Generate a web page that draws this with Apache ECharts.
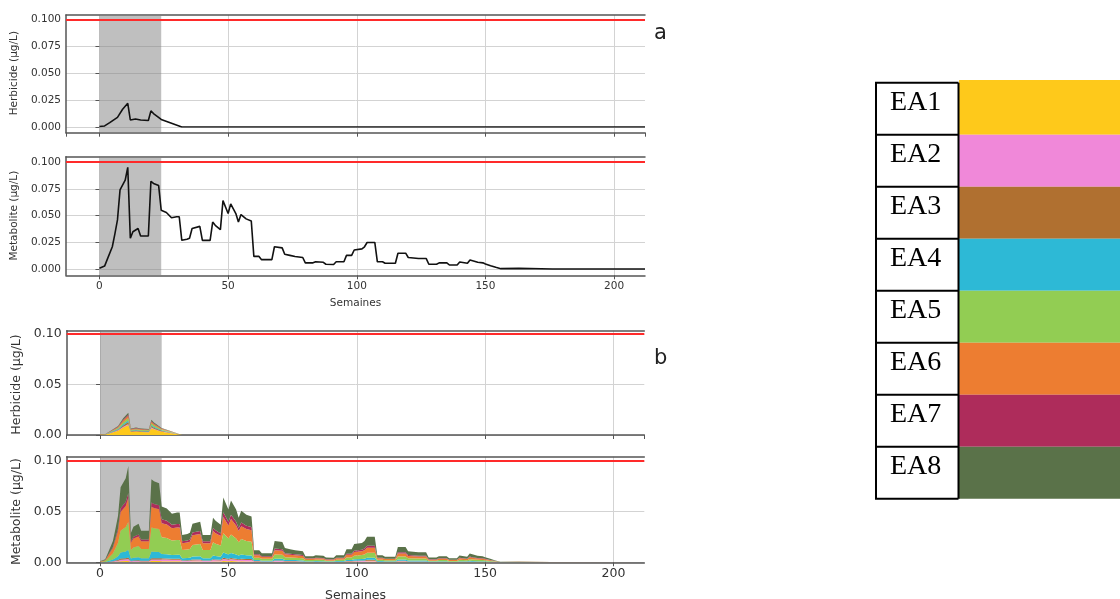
<!DOCTYPE html>
<html><head><meta charset="utf-8">
<script src="https://cdn.jsdelivr.net/npm/echarts@6/dist/echarts.min.js"></script>
<style>html,body{margin:0;padding:0;background:#fff}#c{width:1120px;height:599px}</style>
</head><body><div id="c"></div>
<script>
// ---------- DATA ----------
const threshold = 0.1;           // µg/L limit (red line)
const shadeStart = 0, shadeEnd = 24;  // grey period (weeks)
const xTickValues = [0, 50, 100, 150, 200];

const herbWeeks = [0,2,4,7,9,11,12,14,16,19,20,21,24,32,212];
const herbTotal = [0.0005,0.001,0.004,0.009,0.0165,0.022,0.0065,0.0075,0.0065,0.006,0.015,0.0125,0.007,0,0];
const herbEA1 = [.0002,.0004,.0018,.0041,.0074,.0099,.0029,.0034,.0029,.0027,.0068,.0056,.0032,0,0];
const herbEA2 = [0,.0001,.0002,.0005,.0008,.0011,.0003,.0004,.0003,.0003,.0008,.0006,.0003,0,0];
const herbEA3 = [0,.0001,.0003,.0007,.0013,.0018,.0005,.0006,.0005,.0005,.0012,.0010,.0006,0,0];
const herbEA4 = [0,.0001,.0003,.0006,.0012,.0015,.0005,.0005,.0005,.0004,.0010,.0009,.0005,0,0];
const herbEA5 = [.0001,.0001,.0005,.0011,.0020,.0026,.0008,.0009,.0008,.0007,.0018,.0015,.0008,0,0];
const herbEA6 = [.0001,.0001,.0004,.0009,.0017,.0022,.0007,.0007,.0007,.0006,.0015,.0013,.0007,0,0];
const herbEA7 = [0,0,.0002,.0004,.0008,.0011,.0003,.0004,.0003,.0003,.0007,.0006,.0004,0,0];
const herbEA8 = [.0001,.0001,.0003,.0007,.0013,.0018,.0005,.0006,.0005,.0005,.0012,.0010,.0005,0,0];

const metaWeeks = [0,2,3,5,6,7,8,10,11,12, 13,15,16,19,20,21,23,24,26,28, 30,31,32,34,35,36,39,40,43,44,
  45,47,48,50,51,53,54,55,57,59, 60,62,63,67,68,71,72,74,76,79, 80,83,84,87,88,91,92,95,96,98,
  99,102,103,104,107,108,110,111,115,116, 119,120,124,127,128,131,132,135,136,139,
  140,143,144,145,147,149,150,152,154,156, 163,176,212];
const metaTotal = [.001,.003,.009,.021,.033,.046,.074,.083,.095,.029, .035,.038,.031,.031,.082,.080,.078,.055,.053,.048,
  .049,.049,.027,.028,.029,.038,.040,.027,.027,.044, .041,.037,.064,.052,.061,.052,.044,.051,.047,.045,
  .012,.012,.009,.009,.021,.020,.014,.013,.012,.011, .006,.006,.007,.0065,.0047,.0045,.007,.007,.013,.013,
  .018,.019,.021,.025,.025,.007,.007,.0056,.0056,.015, .015,.011,.010,.010,.0047,.0047,.006,.006,.004,.004,
  .0068,.0056,.0087,.008,.0065,.006,.005,.0034,.0019,.0006, .0009,.0003,.0003];
const metaEA1 = [0,0,.0001,.0003,.0005,.0007,.0011,.0012,.0014,.0004, .0005,.0006,.0005,.0005,.0012,.0012,.0012,.0011,.0011,.0010,
  .0010,.0010,.0005,.0006,.0006,.0008,.0008,.0005,.0005,.0009, .0008,.0007,.0013,.0010,.0012,.0010,.0009,.0010,.0009,.0009,
  .0004,.0004,.0003,.0003,.0006,.0006,.0004,.0004,.0004,.0003, .0002,.0002,.0002,.0002,.0001,.0001,.0002,.0002,.0004,.0004,
  .0005,.0006,.0006,.0008,.0008,.0002,.0002,.0002,.0002,.0005, .0005,.0003,.0003,.0003,.0001,.0001,.0002,.0002,.0001,.0001,
  .0002,.0002,.0003,.0002,.0002,.0002,.0002,.0001,.0001,0, 0,0,0];
const metaEA2 = [0,.0001,.0002,.0004,.0007,.0009,.0015,.0017,.0019,.0006, .0007,.0008,.0006,.0006,.0016,.0016,.0016,.0017,.0016,.0014,
  .0015,.0015,.0008,.0008,.0009,.0011,.0012,.0008,.0008,.0013, .0012,.0011,.0019,.0016,.0018,.0016,.0013,.0015,.0014,.0014,
  .0004,.0004,.0003,.0003,.0006,.0006,.0004,.0004,.0004,.0003, .0002,.0002,.0002,.0002,.0001,.0001,.0002,.0002,.0004,.0004,
  .0005,.0006,.0006,.0008,.0008,.0002,.0002,.0002,.0002,.0005, .0005,.0003,.0003,.0003,.0001,.0001,.0002,.0002,.0001,.0001,
  .0002,.0002,.0003,.0002,.0002,.0002,.0002,.0001,.0001,0, 0,0,0];
const metaEA3 = [0,0,.0001,.0003,.0005,.0007,.0011,.0012,.0014,.0004, .0005,.0006,.0005,.0005,.0012,.0012,.0012,.0011,.0011,.0010,
  .0010,.0010,.0005,.0006,.0006,.0008,.0008,.0005,.0005,.0009, .0008,.0007,.0013,.0010,.0012,.0010,.0009,.0010,.0009,.0009,
  .0004,.0004,.0003,.0003,.0006,.0006,.0004,.0004,.0004,.0003, .0002,.0002,.0002,.0002,.0001,.0001,.0002,.0002,.0004,.0004,
  .0005,.0006,.0006,.0008,.0008,.0002,.0002,.0002,.0002,.0005, .0005,.0003,.0003,.0003,.0001,.0001,.0002,.0002,.0001,.0001,
  .0002,.0002,.0003,.0002,.0002,.0002,.0002,.0001,.0001,0, 0,0,0];
const metaEA4 = [.0001,.0002,.0007,.0017,.0026,.0037,.0059,.0066,.0076,.0023, .0028,.0030,.0025,.0025,.0066,.0064,.0062,.0044,.0042,.0038,
  .0039,.0039,.0022,.0022,.0023,.0030,.0032,.0022,.0022,.0035, .0033,.0030,.0051,.0042,.0049,.0042,.0035,.0041,.0038,.0036,
  .0010,.0010,.0007,.0007,.0017,.0016,.0011,.0010,.0010,.0009, .0005,.0005,.0006,.0005,.0004,.0004,.0006,.0006,.0010,.0010,
  .0014,.0015,.0017,.0020,.0020,.0006,.0006,.0004,.0004,.0012, .0012,.0009,.0008,.0008,.0004,.0004,.0005,.0005,.0003,.0003,
  .0005,.0004,.0007,.0006,.0005,.0005,.0004,.0003,.0002,.0001, .0001,0,0];
const metaEA5 = [.0003,.0009,.0026,.0061,.0096,.0133,.0215,.0241,.0276,.0084, .0102,.0110,.0090,.0090,.0238,.0232,.0226,.0165,.0159,.0144,
  .0147,.0147,.0081,.0084,.0087,.0114,.0120,.0081,.0081,.0132, .0123,.0111,.0192,.0156,.0183,.0156,.0132,.0153,.0141,.0135,
  .0024,.0024,.0018,.0018,.0042,.0040,.0028,.0026,.0024,.0022, .0012,.0012,.0014,.0013,.0009,.0009,.0014,.0014,.0026,.0026,
  .0036,.0038,.0042,.0050,.0050,.0014,.0014,.0011,.0011,.0030, .0030,.0022,.0020,.0020,.0009,.0009,.0012,.0012,.0008,.0008,
  .0014,.0011,.0017,.0016,.0013,.0012,.0010,.0007,.0004,.0001, .0002,.0001,.0001];
const metaEA6 = [.0003,.0008,.0023,.0053,.0083,.0115,.0185,.0208,.0238,.0073, .0088,.0095,.0078,.0078,.0205,.0200,.0195,.0138,.0133,.0120,
  .0123,.0123,.0068,.0070,.0073,.0095,.0100,.0068,.0068,.0110, .0103,.0093,.0160,.0130,.0153,.0130,.0110,.0128,.0118,.0113,
  .0024,.0024,.0018,.0018,.0042,.0040,.0028,.0026,.0024,.0022, .0012,.0012,.0014,.0013,.0009,.0009,.0014,.0014,.0026,.0026,
  .0036,.0038,.0042,.0050,.0050,.0014,.0014,.0011,.0011,.0030, .0030,.0022,.0020,.0020,.0009,.0009,.0012,.0012,.0008,.0008,
  .0014,.0011,.0017,.0016,.0013,.0012,.0010,.0007,.0004,.0001, .0002,.0001,.0001];
const metaEA7 = [0,.0001,.0005,.0011,.0017,.0023,.0037,.0042,.0048,.0015, .0018,.0019,.0016,.0016,.0041,.0040,.0039,.0039,.0037,.0034,
  .0034,.0034,.0019,.0020,.0020,.0027,.0028,.0019,.0019,.0031, .0029,.0026,.0045,.0036,.0043,.0036,.0031,.0036,.0033,.0032,
  .0010,.0010,.0007,.0007,.0017,.0016,.0011,.0010,.0010,.0009, .0005,.0005,.0006,.0005,.0004,.0004,.0006,.0006,.0010,.0010,
  .0014,.0015,.0017,.0020,.0020,.0006,.0006,.0004,.0004,.0012, .0012,.0009,.0008,.0008,.0004,.0004,.0005,.0005,.0003,.0003,
  .0005,.0004,.0007,.0006,.0005,.0005,.0004,.0003,.0001,.0001, .0001,0,0];
const metaEA8 = [.0003,.0009,.0025,.0059,.0092,.0129,.0207,.0232,.0266,.0081, .0098,.0106,.0087,.0087,.0230,.0224,.0218,.0127,.0122,.0110,
  .0113,.0113,.0062,.0064,.0067,.0087,.0092,.0062,.0062,.0101, .0094,.0085,.0147,.0120,.0140,.0120,.0101,.0117,.0108,.0103,
  .0040,.0040,.0031,.0031,.0074,.0070,.0050,.0046,.0040,.0039, .0020,.0020,.0024,.0023,.0018,.0016,.0024,.0024,.0046,.0046,
  .0065,.0066,.0074,.0087,.0087,.0024,.0024,.0020,.0020,.0051, .0051,.0039,.0035,.0035,.0018,.0018,.0020,.0020,.0015,.0015,
  .0024,.0020,.0030,.0030,.0023,.0020,.0016,.0011,.0005,.0002, .0003,.0001,.0001];

const eaLabels = ['EA1','EA2','EA3','EA4','EA5','EA6','EA7','EA8'];
const eaColors = ['#fec91b','#f088d9','#b07030','#2db9d6','#92cd53','#ed7d31','#ae2c5b','#5a7249'];
const herbLayers = [herbEA1,herbEA2,herbEA3,herbEA4,herbEA5,herbEA6,herbEA7,herbEA8];
const metaLayers = [metaEA1,metaEA2,metaEA3,metaEA4,metaEA5,metaEA6,metaEA7,metaEA8];
const yNames = ['Herbicide (µg/L)','Metabolite (µg/L)','Herbicide (µg/L)','Metabolite (µg/L)'];
const xName = 'Semaines';
const panelLetters = ['a','b'];

// ---------- LAYOUT ----------
const FONT = 'DejaVu Sans';
const XMIN = -13, XMAX = 212;
const panels = [
  {frame:[15,132.7], data:[19.3,127], left:66, right:645, yInt:0.025, dec:3, fs:10.5, xLabels:false, nameGap:42, overlay:false},
  {frame:[156.7,275.3], data:[162,269.3], left:66, right:645, yInt:0.025, dec:3, fs:10.5, xLabels:true, nameGap:42, xNameGap:22, overlay:false},
  {frame:[330.7,435], data:[334,435], left:66.7, right:644.3, yInt:0.05, dec:2, fs:12.5, xLabels:false, nameGap:38, overlay:true},
  {frame:[456.7,562.3], data:[461,562.3], left:66.7, right:644.3, yInt:0.05, dec:2, fs:12.5, xLabels:true, nameGap:38, xNameGap:27, overlay:true}
];
const SPINE = '#555', GRIDC = '#d3d3d3', TXT = '#333';

const grid = [], xAxis = [], yAxis = [], series = [];
panels.forEach((p, i) => {
  const w = p.right - p.left;
  grid.push({left:p.left, top:p.frame[0], width:w, height:p.frame[1]-p.frame[0], containLabel:false, outerBoundsMode:'none'});
  grid.push({left:p.left, top:p.data[0], width:w, height:p.data[1]-p.data[0], containLabel:false, outerBoundsMode:'none'});
  const fg = 2*i, dg = 2*i+1;
  xAxis.push({
    type:'value', gridIndex:fg, position:'bottom', min:XMIN, max:XMAX,
    axisLine:{show:true, onZero:false, lineStyle:{color:SPINE, width:1.5}},
    axisTick:{show:true, length:4, lineStyle:{color:SPINE}},
    axisLabel:{show:p.xLabels, showMinLabel:false, showMaxLabel:false, color:TXT, fontFamily:FONT, fontSize:p.fs, margin:5,
      formatter: v => xTickValues.includes(v) ? String(v) : ''},
    splitLine:{show:true, lineStyle:{color:['rgba(0,0,0,0)',GRIDC,GRIDC,GRIDC,GRIDC,GRIDC,'rgba(0,0,0,0)'], width:1}},
    name: p.xLabels ? xName : '', nameLocation:'middle', nameGap:p.xNameGap||20,
    nameTextStyle:{color:TXT, fontFamily:FONT, fontSize:p.fs}
  });
  xAxis.push({
    type:'value', gridIndex:fg, position:'top', min:XMIN, max:XMAX,
    axisLine:{show:true, onZero:false, lineStyle:{color:SPINE, width:1.5}},
    axisTick:{show:false}, axisLabel:{show:false}, splitLine:{show:false}
  });
  xAxis.push({type:'value', gridIndex:dg, min:XMIN, max:XMAX, show:false});
  yAxis.push({
    type:'value', gridIndex:fg, min:0, max:1,
    axisLine:{show:true, onZero:false, lineStyle:{color:SPINE, width:1.5}},
    axisTick:{show:false}, axisLabel:{show:false}, splitLine:{show:false}
  });
  yAxis.push({
    type:'value', gridIndex:dg, min:0, max:threshold, interval:p.yInt,
    axisLine:{show:false}, axisTick:{show:true, length:4, lineStyle:{color:SPINE}},
    axisLabel:{color:TXT, fontFamily:FONT, fontSize:p.fs, margin:5, formatter: v => v.toFixed(p.dec)},
    splitLine:{show:true, lineStyle:{color:GRIDC, width:1}},
    name:yNames[i], nameLocation:'middle', nameGap:p.nameGap,
    nameTextStyle:{color:TXT, fontFamily:FONT, fontSize:p.fs}
  });
  series.push({
    type:'line', xAxisIndex:3*i, yAxisIndex:2*i, data:[], silent:true, z: p.overlay ? 5 : 1,
    markArea:{silent:true, itemStyle:{color:'rgba(128,128,128,0.5)'}, data:[[{xAxis:shadeStart},{xAxis:shadeEnd}]]}
  });
  series.push({
    type:'line', xAxisIndex:3*i+2, yAxisIndex:2*i+1, data:[], silent:true, z:10,
    markLine:{silent:true, symbol:'none', label:{show:false}, animation:false,
      lineStyle:{color:'#ff2a2a', width:2, type:'solid'}, data:[{yAxis:threshold}]}
  });
});

const pairs = (weeks, vals) => weeks.map((w, k) => [w, vals[k]]);
// value-first rows so that ECharts stacks the concentration dimension
const rowsYX = (weeks, vals) => weeks.map((w, k) => [vals[k], w]);

series.push({type:'line', xAxisIndex:2, yAxisIndex:1, data:pairs(herbWeeks, herbTotal), showSymbol:false, z:3,
  lineStyle:{color:'#111', width:1.6}});
series.push({type:'line', xAxisIndex:5, yAxisIndex:3, data:pairs(metaWeeks, metaTotal), showSymbol:false, z:3,
  lineStyle:{color:'#111', width:1.6}});
eaLabels.forEach((name, k) => {
  series.push({name, type:'line', stack:'herb', xAxisIndex:8, yAxisIndex:5, data:rowsYX(herbWeeks, herbLayers[k]),
    encode:{x:1, y:0}, showSymbol:false, z:3, lineStyle:{width:0}, areaStyle:{color:eaColors[k], opacity:1}, itemStyle:{color:eaColors[k]}});
  series.push({name, type:'line', stack:'meta', xAxisIndex:11, yAxisIndex:7, data:rowsYX(metaWeeks, metaLayers[k]),
    encode:{x:1, y:0}, showSymbol:false, z:3, lineStyle:{width:0}, areaStyle:{color:eaColors[k], opacity:1}, itemStyle:{color:eaColors[k]}});
});

// ---------- legend table (graphic) ----------
const TAB_L = 876, TAB_DIV = 958.5, TAB_R = 1120, TAB_TOP = 82.7, ROW_H = 52;
const graphic = [];
eaLabels.forEach((lab, k) => {
  const y0 = TAB_TOP + k*ROW_H;
  graphic.push({type:'rect', shape:{x:TAB_DIV+0.5, y:(k===0? y0-2.7 : y0), width:TAB_R-TAB_DIV, height:ROW_H + (k===0?2.7:0)},
    style:{fill:eaColors[k]}, silent:true});
  graphic.push({type:'text', x:890, y:y0+19.5, style:{text:lab, fill:'#000', font:'28px "Liberation Serif"', verticalAlign:'middle', align:'left'}, silent:true});
});
for (let k = 0; k <= eaLabels.length; k++) {
  const y = TAB_TOP + k*ROW_H;
  graphic.push({type:'line', shape:{x1:TAB_L-1, y1:y, x2:TAB_DIV, y2:y}, style:{stroke:'#000', lineWidth:2}, silent:true});
}
graphic.push({type:'line', shape:{x1:TAB_L, y1:TAB_TOP, x2:TAB_L, y2:TAB_TOP+8*ROW_H}, style:{stroke:'#000', lineWidth:2}, silent:true});
graphic.push({type:'line', shape:{x1:TAB_DIV, y1:TAB_TOP, x2:TAB_DIV, y2:TAB_TOP+8*ROW_H}, style:{stroke:'#000', lineWidth:2}, silent:true});
graphic.push({type:'text', x:654, y:33.7, style:{text:panelLetters[0], fill:'#222', font:'21px "DejaVu Sans"', verticalAlign:'middle'}, silent:true});
graphic.push({type:'text', x:654, y:358.7, style:{text:panelLetters[1], fill:'#222', font:'21px "DejaVu Sans"', verticalAlign:'middle'}, silent:true});

const chart = echarts.init(document.getElementById('c'), null, {renderer:'canvas'});
chart.setOption({animation:false, backgroundColor:'#fff', grid, xAxis, yAxis, series, graphic});
</script></body></html>
